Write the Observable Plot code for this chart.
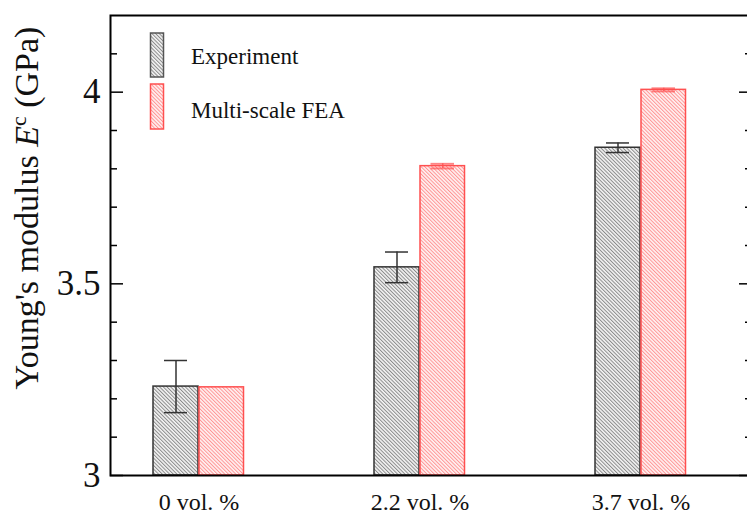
<!DOCTYPE html>
<html><head><meta charset="utf-8">
<script src="https://cdn.jsdelivr.net/npm/d3@7"></script>
<script src="https://cdn.jsdelivr.net/npm/@observablehq/plot@0.6"></script>
<style>
html,body{margin:0;padding:0;overflow:hidden;background:#fff;}
#chart{position:relative;width:747px;height:514px;overflow:hidden;}
</style></head><body><div id="chart"></div>
<script>
const categories = ["0 vol. %", "2.2 vol. %", "3.7 vol. %"];
const seriesNames = ["Experiment", "Multi-scale FEA"];
const experimentValues = [3.232, 3.543, 3.855];
const experimentErrors = [0.068, 0.040, 0.0125];
const feaValues = [3.230, 3.807, 4.006];
const feaErrors = [0.0, 0.006, 0.004];
const yMajorTicks = [3, 3.5, 4];
const yMinorTicks = [3.1, 3.2, 3.3, 3.4, 3.6, 3.7, 3.8, 3.9, 4.1];
const yDomain = [3, 4.2];
const baseline = 3;

const exp = categories.map((c, i) => ({cat: c, v: experimentValues[i], e: experimentErrors[i]}));
const fea = categories.map((c, i) => ({cat: c, v: feaValues[i], e: feaErrors[i]}));
const feaErr = fea.filter(d => d.e > 0);

const W = 754, H = 514, mL = 110, mR = 2, mT = 15, mB = 39;
const innerW = W - mL - mR;
const font = "'Liberation Serif', 'Times New Roman', serif";
const expStroke = "#333333", feaStroke = "#ff5050";

const plot = Plot.plot({
  width: W, height: H, marginLeft: mL, marginRight: mR, marginTop: mT, marginBottom: mB,
  style: {fontFamily: font, background: "white", maxWidth: "none", overflow: "visible"},
  x: {domain: categories, paddingInner: 0.2, paddingOuter: 0.046, align: 0, axis: null},
  y: {domain: yDomain, axis: null},
  marks: [
    Plot.barY(exp, {x: "cat", y1: baseline, y2: "v", fill: "url(#hatchExp)", stroke: expStroke, strokeWidth: 1.5, insetLeft: 43, insetRight: 89}),
    Plot.barY(fea, {x: "cat", y1: baseline, y2: "v", fill: "url(#hatchFea)", stroke: feaStroke, strokeWidth: 1.5, insetLeft: 89, insetRight: 43.5}),
    Plot.ruleX(exp, {x: "cat", y1: d => d.v - d.e, y2: d => d.v + d.e, dx: -23, stroke: expStroke, strokeWidth: 1.5}),
    Plot.tickY(exp, {x: "cat", y: d => d.v + d.e, insetLeft: 54, insetRight: 100, stroke: expStroke, strokeWidth: 1.5}),
    Plot.tickY(exp, {x: "cat", y: d => d.v - d.e, insetLeft: 54, insetRight: 100, stroke: expStroke, strokeWidth: 1.5}),
    Plot.ruleX(feaErr, {x: "cat", y1: d => d.v - d.e, y2: d => d.v + d.e, dx: 22.75, stroke: feaStroke, strokeWidth: 1.5, strokeOpacity: 0.8}),
    Plot.tickY(feaErr, {x: "cat", y: d => d.v + d.e, insetLeft: 99.5, insetRight: 54, stroke: feaStroke, strokeWidth: 2, strokeOpacity: 0.7}),
    Plot.tickY(feaErr, {x: "cat", y: d => d.v - d.e, insetLeft: 99.5, insetRight: 54, stroke: feaStroke, strokeWidth: 2, strokeOpacity: 0.7}),
    Plot.tickY(yMajorTicks, {y: d => d, insetRight: innerW - 13, stroke: "black", strokeWidth: 1.5}),
    Plot.tickY(yMinorTicks, {y: d => d, insetRight: innerW - 7, stroke: "black", strokeWidth: 1.5}),
    Plot.tickY(yMajorTicks, {y: d => d, insetLeft: innerW - 13, stroke: "black", strokeWidth: 1.5}),
    Plot.tickY(yMinorTicks, {y: d => d, insetLeft: innerW - 7, stroke: "black", strokeWidth: 1.5}),
    Plot.axisY({ticks: yMajorTicks, tickSize: 0, tickPadding: 10, fontSize: 35, fontFamily: font, tickFormat: d => String(d), label: null, fill: "#111"}),
    Plot.axisX({tickSize: 0, tickPadding: 17, fontSize: 24, fontFamily: font, label: null, fill: "#111"}),
    Plot.frame({stroke: "black", strokeWidth: 2})
  ]
});

const svg = d3.select(plot);
svg.insert("defs", ":first-child").html(`
  <pattern id="hatchExp" patternUnits="userSpaceOnUse" width="2.6" height="2.6" patternTransform="rotate(-45)">
    <rect width="2.6" height="2.6" fill="#f4f4f4"/>
    <line x1="0.5" y1="0" x2="0.5" y2="2.6" stroke="#8a8a8a" stroke-width="1"/>
  </pattern>
  <pattern id="hatchFea" patternUnits="userSpaceOnUse" width="2.6" height="2.6" patternTransform="rotate(-45)">
    <rect width="2.6" height="2.6" fill="#fff2f2"/>
    <line x1="0.5" y1="0" x2="0.5" y2="2.6" stroke="#ff9494" stroke-width="1"/>
  </pattern>`);

// Legend
const legend = svg.append("g").attr("font-family", font).attr("font-size", 23).attr("fill", "#111").attr("text-anchor", "start");
const legendItems = [
  {name: seriesNames[0], fill: "url(#hatchExp)", stroke: "#555", y: 33, h: 44, ty: 64},
  {name: seriesNames[1], fill: "url(#hatchFea)", stroke: feaStroke, y: 84, h: 45, ty: 118}
];
legendItems.forEach(it => {
  legend.append("rect").attr("x", 150.5).attr("y", it.y).attr("width", 13).attr("height", it.h)
    .attr("fill", it.fill).attr("stroke", it.stroke).attr("stroke-width", 1.5);
  legend.append("text").attr("x", 191).attr("y", it.ty).attr("text-anchor", "start").text(it.name);
});

// Y axis title
const yt = svg.append("text").attr("transform", "translate(38,208) rotate(-90)")
  .attr("text-anchor", "middle").attr("font-family", font).attr("font-size", 34).attr("fill", "#111");
yt.append("tspan").text("Young's modulus ");
yt.append("tspan").attr("font-style", "italic").text("E");
yt.append("tspan").attr("baseline-shift", "super").attr("font-size", 22).text("c");
yt.append("tspan").text(" (GPa)");

document.getElementById("chart").appendChild(plot);
</script>
</body></html>
